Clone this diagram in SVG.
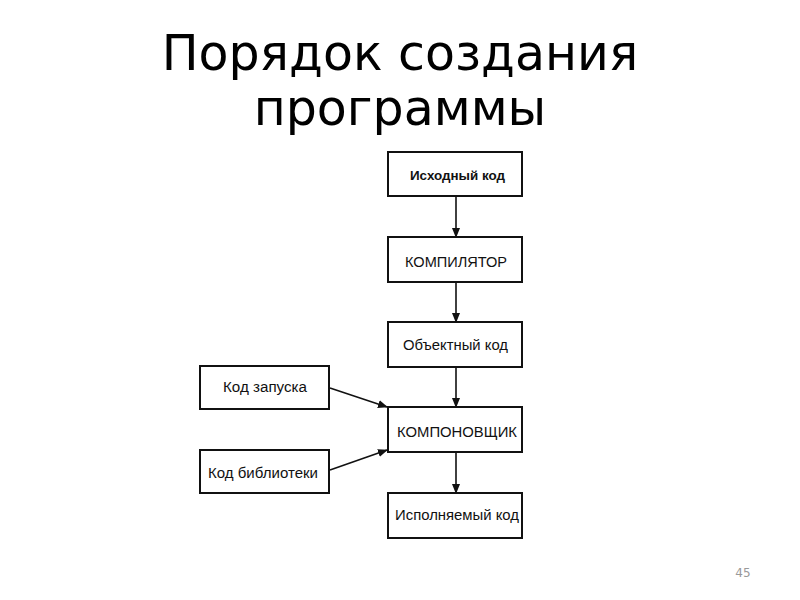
<svg xmlns="http://www.w3.org/2000/svg" width="800" height="600" viewBox="0 0 800 600">
<defs>
<marker id="ah" markerWidth="10" markerHeight="10" refX="9" refY="5" orient="auto" markerUnits="userSpaceOnUse">
<path d="M0,1 L10,5 L0,9 Z" fill="#111"/>
</marker>
<style>
.box{fill:#fff;stroke:#111;stroke-width:2}
.lbl{font-family:"Liberation Sans",Arial,sans-serif;font-size:14px;fill:#111;text-anchor:middle;dominant-baseline:central}
.big{font-size:15px}
.b{font-weight:bold;font-size:13px}
.title{font-family:"DejaVu Sans",sans-serif;font-size:49px;fill:#000;text-anchor:middle}
.con{stroke:#111;stroke-width:1.6;fill:none;marker-end:url(#ah)}
</style>
</defs>
<rect width="800" height="600" fill="#fff"/>
<text class="title" x="400" y="70">Порядок создания</text>
<text class="title" x="400" y="125">программы</text>
<g id="n1"><rect class="box" x="388" y="152" width="134" height="44"/><text class="lbl b" x="457.5" y="175" textLength="95" lengthAdjust="spacingAndGlyphs">Исходный код</text></g>
<g id="n2"><rect class="box" x="388" y="237" width="134" height="45"/><text class="lbl big" x="456" y="261" textLength="102" lengthAdjust="spacingAndGlyphs">КОМПИЛЯТОР</text></g>
<g id="n3"><rect class="box" x="388" y="322" width="134" height="45"/><text class="lbl" x="455.5" y="345" textLength="105" lengthAdjust="spacingAndGlyphs">Объектный код</text></g>
<g id="n4"><rect class="box" x="388" y="407" width="134" height="45"/><text class="lbl big" x="457" y="431" textLength="120" lengthAdjust="spacingAndGlyphs">КОМПОНОВЩИК</text></g>
<g id="n5"><rect class="box" x="388" y="493" width="134" height="45"/><text class="lbl" x="457" y="515" textLength="124" lengthAdjust="spacingAndGlyphs">Исполняемый код</text></g>
<g id="n6"><rect class="box" x="200" y="366" width="129" height="43"/><text class="lbl" x="265" y="387" textLength="84" lengthAdjust="spacingAndGlyphs">Код запуска</text></g>
<g id="n7"><rect class="box" x="200" y="450" width="129" height="43"/><text class="lbl" x="263" y="473" textLength="110" lengthAdjust="spacingAndGlyphs">Код библиотеки</text></g>
<g id="connectors">
<line class="con" x1="456" y1="196" x2="456" y2="237"/>
<line class="con" x1="456" y1="282" x2="456" y2="322"/>
<line class="con" x1="456" y1="367" x2="456" y2="407"/>
<line class="con" x1="456" y1="452" x2="456" y2="493"/>
<line class="con" x1="330" y1="388" x2="387" y2="407"/>
<line class="con" x1="330" y1="470" x2="387" y2="450"/>
</g>
<text x="743" y="577" font-family="DejaVu Sans,sans-serif" font-size="12" fill="#999" text-anchor="middle">45</text>
</svg>
